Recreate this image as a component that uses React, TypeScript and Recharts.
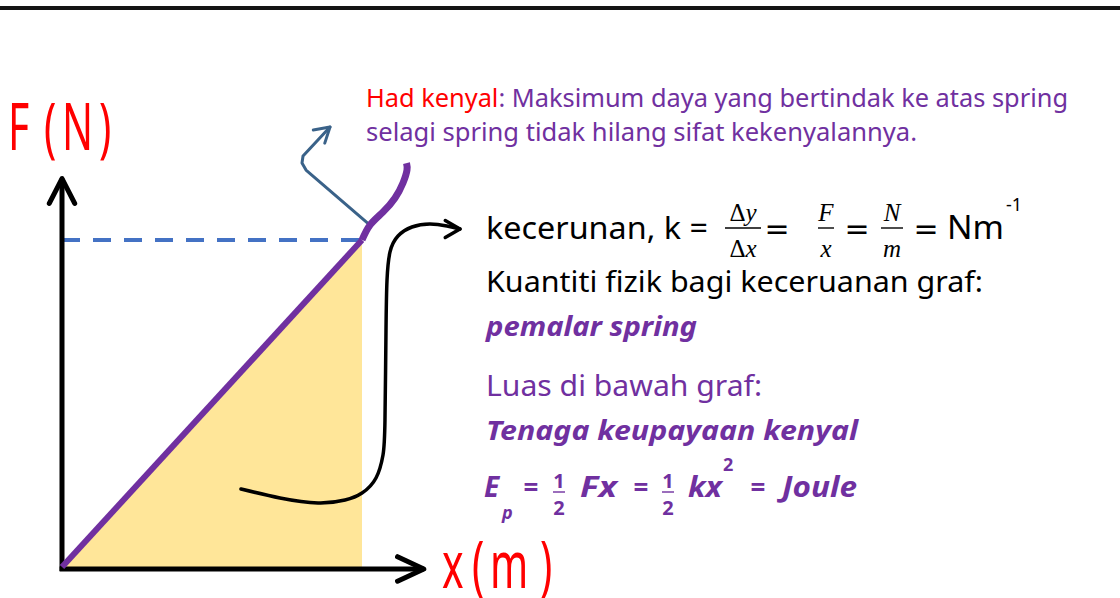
import { Area, ComposedChart, Line, ReferenceDot, XAxis, YAxis } from 'recharts';

// chart units: x in m, F in N (elastic limit at 5 m, 5 N)
const W = 1120;
const H = 598;
const ORIGIN_PX = { x: 62, y: 567 };
const PX_PER_X = 60;
const PX_PER_F = 65.4;
const X_DOMAIN = [-ORIGIN_PX.x / PX_PER_X, (W - ORIGIN_PX.x) / PX_PER_X];
const F_DOMAIN = [-(H - ORIGIN_PX.y) / PX_PER_F, ORIGIN_PX.y / PX_PER_F];

const linearX = [0, 5];
const linearF = [0, 5];

const limitX = [5, 5.133, 5.35, 5.55, 5.683, 5.75, 5.742];
const limitF = [5, 5.229, 5.428, 5.642, 5.872, 6.07, 6.177];

const dashX = [0, 5];
const dashF = [5, 5];

const yAxisX = [0, 0];
const yAxisF = [-0.06, 5.94];
const xAxisX = [-0.04, 6.03];
const xAxisF = [-0.03, -0.03];

const blueX = [5.133, 4.067, 4.0, 4.017, 4.467];
const blueF = [5.229, 6.07, 6.177, 6.284, 6.728];

const curveX = [2.983, 3.633, 4.267, 4.717, 5.0, 5.233, 5.35, 5.383, 5.4, 5.417, 5.467, 5.6, 5.833, 6.133, 6.417, 6.633];
const curveF = [1.193, 1.055, 0.979, 1.024, 1.131, 1.361, 1.713, 2.248, 3.624, 4.388, 4.817, 5.061, 5.199, 5.245, 5.214, 5.168];

const toPts = (xs: number[], fs: number[]) => xs.map((x, i) => ({ x, f: fs[i] }));

const RED = '#FF0000';
const PURPLE = '#7030A0';
const BLUE_DASH = '#4472C4';
const BLUE_ARROW = '#3A6289';
const YELLOW = '#FFE699';

const SANS = '"Noto Sans", sans-serif';
const SERIF = '"Liberation Serif", serif';

function chevron(angle: number, len: number, half: number, color: string, width: number) {
  return (props: any) => {
    const { cx, cy } = props;
    const a = (angle * Math.PI) / 180;
    const h = (half * Math.PI) / 180;
    const x1 = cx - len * Math.cos(a - h);
    const y1 = cy - len * Math.sin(a - h);
    const x2 = cx - len * Math.cos(a + h);
    const y2 = cy - len * Math.sin(a + h);
    return (
      <path
        d={`M${x1},${y1} L${cx},${cy} L${x2},${y2}`}
        fill="none"
        stroke={color}
        strokeWidth={width}
        strokeLinecap="round"
        strokeLinejoin="round"
      />
    );
  };
}

function Frac({ cx, num, den, size = 25, bar = 228, numY = 221, denY = 257, half = 9, color = '#000', font = SERIF, italic = true, weight = 400 }: any) {
  return (
    <g fill={color} fontFamily={font} fontStyle={italic ? 'italic' : 'normal'} fontWeight={weight} fontSize={size} textAnchor="middle">
      <text x={cx} y={numY}>{num}</text>
      <line x1={cx - half} x2={cx + half} y1={bar} y2={bar} stroke={color} strokeWidth={1.4} />
      <text x={cx} y={denY}>{den}</text>
    </g>
  );
}

function Labels() {
  return (
    <svg width={W} height={H} style={{ position: 'absolute', left: 0, top: 0, pointerEvents: 'none' }}>
      {/* axis titles */}
      <text fontFamily={SANS} fontSize={66} fill={RED} transform="scale(0.62,1)">
        <tspan x={8 / 0.62} y={150}>F</tspan>
        <tspan x={44 / 0.62} y={150}>(</tspan>
        <tspan x={62 / 0.62} y={150}>N</tspan>
        <tspan x={99 / 0.62} y={150}>)</tspan>
      </text>
      <text fontFamily={SANS} fontSize={66} fill={RED} transform="scale(0.62,1)">
        <tspan x={442 / 0.62} y={588}>x</tspan>
        <tspan x={472 / 0.62} y={588}>(</tspan>
        <tspan x={490 / 0.62} y={588}>m</tspan>
        <tspan x={540 / 0.62} y={588}>)</tspan>
      </text>

      {/* elastic limit note */}
      <text x={366} y={107} fontFamily={SANS} fontSize={26} textLength={702} lengthAdjust="spacingAndGlyphs">
        <tspan fill={RED}>Had kenyal</tspan>
        <tspan fill={PURPLE}>: Maksimum daya yang bertindak ke atas spring</tspan>
      </text>
      <text x={366} y={141} fontFamily={SANS} fontSize={26} fill={PURPLE} textLength={551} lengthAdjust="spacingAndGlyphs">
        selagi spring tidak hilang sifat kekenyalannya.
      </text>

      {/* gradient */}
      <text x={486} y={239} fontFamily={SANS} fontSize={31} fill="#000" textLength={222} lengthAdjust="spacingAndGlyphs">
        kecerunan, k =
      </text>
      <Frac cx={743} num={<><tspan fontStyle="normal">Δ</tspan>y</>} den={<><tspan fontStyle="normal">Δ</tspan>x</>} half={18} />
      <text x={777} y={239} fontFamily='"DejaVu Sans", sans-serif' fontSize={30} textAnchor="middle">=</text>
      <Frac cx={826} num="F" den="x" half={8} />
      <text x={857} y={239} fontFamily='"DejaVu Sans", sans-serif' fontSize={30} textAnchor="middle">=</text>
      <Frac cx={892} num="N" den="m" half={11} />
      <text x={926} y={239} fontFamily='"DejaVu Sans", sans-serif' fontSize={30} textAnchor="middle">=</text>
      <text x={947} y={239} fontFamily={SANS} fontSize={32} textLength={57} lengthAdjust="spacingAndGlyphs">Nm</text>
      <text x={1006} y={211} fontFamily={SANS} fontSize={18}>-1</text>

      <text x={486} y={292} fontFamily={SANS} fontSize={29} fill="#000" textLength={497} lengthAdjust="spacingAndGlyphs">
        Kuantiti fizik bagi keceruanan graf:
      </text>
      <text x={486} y={336} fontFamily={SANS} fontSize={27} fontWeight={700} fontStyle="italic" fill={PURPLE} textLength={211} lengthAdjust="spacingAndGlyphs">
        pemalar spring
      </text>

      {/* area */}
      <text x={486} y={396} fontFamily={SANS} fontSize={29} fill={PURPLE} textLength={276} lengthAdjust="spacingAndGlyphs">
        Luas di bawah graf:
      </text>
      <text x={486} y={440} fontFamily={SANS} fontSize={27} fontWeight={700} fontStyle="italic" fill={PURPLE} textLength={372} lengthAdjust="spacingAndGlyphs">
        Tenaga keupayaan kenyal
      </text>

      <g fontFamily={SANS} fontWeight={700} fontStyle="italic" fill={PURPLE}>
        <text x={484} y={497} fontSize={28}>E</text>
        <text x={502} y={519} fontSize={18}>p</text>
        <text x={531} y={497} fontSize={26} fontStyle="normal" textAnchor="middle">=</text>
        <Frac cx={559} num="1" den="2" size={20} bar={492} numY={488} denY={515} half={6} color={PURPLE} font={SANS} italic={false} weight={700} />
        <text x={580} y={497} fontSize={28} textLength={37} lengthAdjust="spacingAndGlyphs">Fx</text>
        <text x={641} y={497} fontSize={26} fontStyle="normal" textAnchor="middle">=</text>
        <Frac cx={668} num="1" den="2" size={20} bar={492} numY={488} denY={515} half={6} color={PURPLE} font={SANS} italic={false} weight={700} />
        <text x={688} y={497} fontSize={28} textLength={34} lengthAdjust="spacingAndGlyphs">kx</text>
        <text x={723} y={471} fontSize={18} fontStyle="normal">2</text>
        <text x={758} y={497} fontSize={26} fontStyle="normal" textAnchor="middle">=</text>
        <text x={782} y={497} fontSize={28} textLength={75} lengthAdjust="spacingAndGlyphs">Joule</text>
      </g>
    </svg>
  );
}

export default function App() {
  return (
    <div style={{ position: 'absolute', left: 0, top: 0, width: W, height: H, background: '#fff', overflow: 'hidden' }}>
      <div style={{ position: 'absolute', left: 0, top: 6, width: W, height: 4, background: '#151515' }} />
      <ComposedChart width={W} height={H} margin={{ top: 0, right: 0, bottom: 0, left: 0 }}>
        <XAxis type="number" dataKey="x" domain={X_DOMAIN} allowDataOverflow hide />
        <YAxis type="number" dataKey="f" domain={F_DOMAIN} allowDataOverflow hide />
        <Area
          data={toPts(linearX, linearF)}
          dataKey="f"
          type="linear"
          baseValue={0}
          fill={YELLOW}
          fillOpacity={1}
          stroke="none"
          isAnimationActive={false}
        />
        <Line data={toPts(dashX, dashF)} dataKey="f" type="linear" stroke={BLUE_DASH} strokeWidth={4} strokeDasharray="18 13" dot={false} activeDot={false} isAnimationActive={false} />
        <Line data={toPts(yAxisX, yAxisF)} dataKey="f" type="linear" stroke="#000" strokeWidth={5} dot={false} activeDot={false} isAnimationActive={false} />
        <Line data={toPts(xAxisX, xAxisF)} dataKey="f" type="linear" stroke="#000" strokeWidth={5} dot={false} activeDot={false} isAnimationActive={false} />
        <Line data={toPts(blueX, blueF)} dataKey="f" type="linear" stroke={BLUE_ARROW} strokeWidth={3} strokeLinecap="round" strokeLinejoin="round" dot={false} activeDot={false} isAnimationActive={false} />
        <Line data={toPts(linearX, linearF)} dataKey="f" type="linear" stroke={PURPLE} strokeWidth={6} dot={false} activeDot={false} isAnimationActive={false} />
        <Line data={toPts(limitX, limitF)} dataKey="f" type="natural" stroke={PURPLE} strokeWidth={7} dot={false} activeDot={false} isAnimationActive={false} />
        <Line data={toPts(curveX, curveF)} dataKey="f" type="natural" stroke="#000" strokeWidth={3.5} strokeLinecap="round" dot={false} activeDot={false} isAnimationActive={false} />
        <ReferenceDot x={yAxisX[1]} y={yAxisF[1]} r={0} shape={chevron(-90, 28, 27, '#000', 5)} />
        <ReferenceDot x={xAxisX[1]} y={xAxisF[1]} r={0} shape={chevron(0, 29, 25, '#000', 5)} />
        <ReferenceDot x={blueX[blueX.length - 1]} y={blueF[blueF.length - 1]} r={0} shape={chevron(-41, 17, 31, BLUE_ARROW, 3)} />
        <ReferenceDot x={curveX[curveX.length - 1]} y={curveF[curveF.length - 1]} r={0} shape={chevron(0, 17, 30, '#000', 3.5)} />
      </ComposedChart>
      <Labels />
    </div>
  );
}
